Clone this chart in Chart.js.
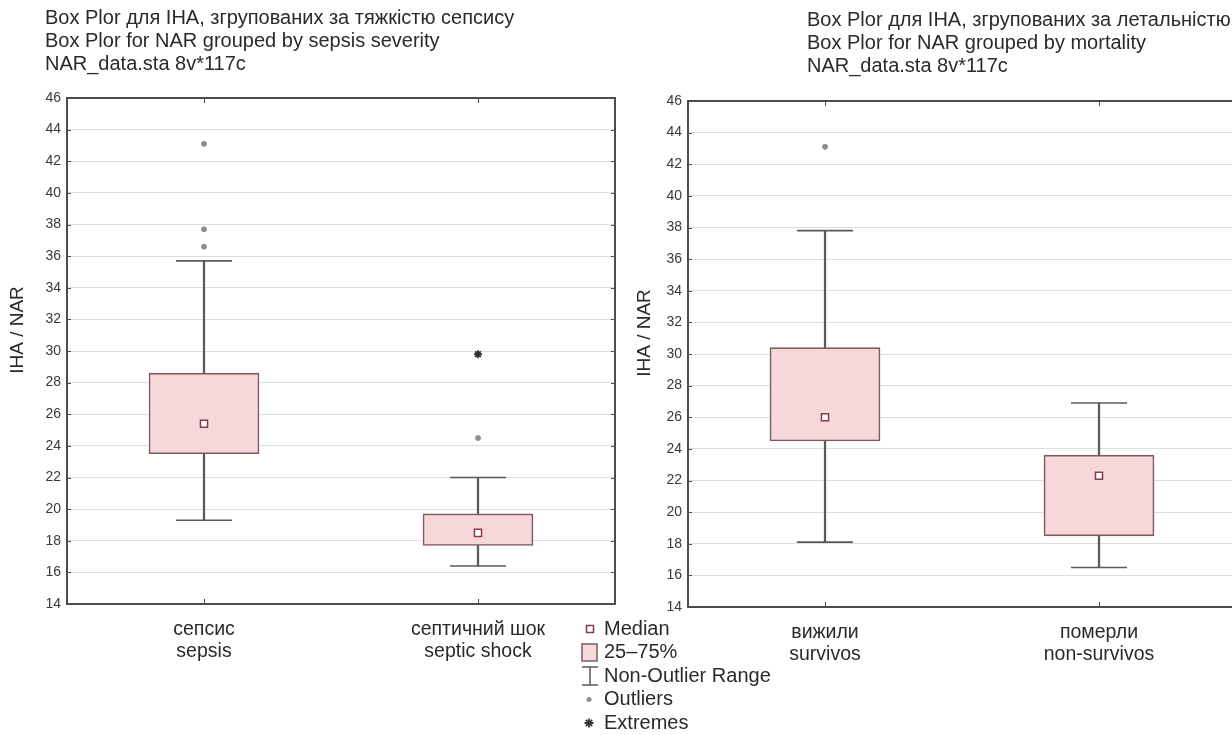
<!DOCTYPE html>
<html lang="uk">
<head>
<meta charset="utf-8">
<title>Box Plor — IHA / NAR</title>
<script src="https://cdn.jsdelivr.net/npm/chart.js@4.4.1/dist/chart.umd.min.js"></script>
<style>
  html, body { margin: 0; padding: 0; background: #fff; overflow: hidden; }
  body { width: 1232px; height: 735px; position: relative; }
  canvas { position: absolute; top: 0; }
  #severity { left: 0; }
  #mortality { left: 620px; }
</style>
</head>
<body>
<canvas id="severity" width="800" height="735"></canvas>
<canvas id="mortality" width="620" height="735"></canvas>
<script>
const FONT = '"Liberation Sans", Arial, Helvetica, sans-serif';

// Shared value axis
const yTickValues = [14, 16, 18, 20, 22, 24, 26, 28, 30, 32, 34, 36, 38, 40, 42, 44, 46];

// Grouping by sepsis severity
const severityGroups = [['сепсис', 'sepsis'], ['септичний шок', 'septic shock']];
const severityMedian = [25.4, 18.5];
const severityQ1 = [23.5, 17.7];
const severityQ3 = [28.6, 19.7];
const severityMin = [19.3, 16.4];
const severityMax = [35.7, 22.0];
const severityOutliers = [[43.1, 37.7, 36.6], [24.5]];
const severityExtremes = [[], [29.8]];

// Grouping by mortality
const mortalityGroups = [['вижили', 'survivos'], ['померли', 'non-survivos']];
const mortalityMedian = [26.0, 22.3];
const mortalityQ1 = [24.5, 18.5];
const mortalityQ3 = [30.4, 23.6];
const mortalityMin = [18.1, 16.5];
const mortalityMax = [37.8, 26.9];
const mortalityOutliers = [[43.1], []];
const mortalityExtremes = [[], []];

const severityHeader = [
  'Box Plor для IHA, згрупованих за тяжкістю сепсису',
  'Box Plor for NAR grouped by sepsis severity',
  'NAR_data.sta 8v*117c'
];
const mortalityHeader = [
  'Box Plor для IHA, згрупованих за летальністю',
  'Box Plor for NAR grouped by mortality',
  'NAR_data.sta 8v*117c'
];
const legendItems = ['Median', '25–75%', 'Non-Outlier Range', 'Outliers', 'Extremes'];

const C = {
  boxFill: '#f6d8db',
  boxEdge: '#7e5a5f',
  whisker: '#5a5a5a',
  median: '#8a3a4a',
  outlier: '#8e8e8e',
  extreme: '#333333',
  grid: '#dddddd',
  frame: '#4d4d4d',
  text: '#2a2a2a',
  tick: '#3a3a3a'
};

Chart.defaults.font.family = FONT;

function pointsOf(lists) {
  const pts = [];
  lists.forEach((vals, i) => vals.forEach(v => pts.push({ x: i, y: v })));
  return pts;
}

function boxDatasets(med, q1, q3, lo, hi, outl, extr) {
  const idx = med.map((_, i) => i);
  return [
    { type: 'line', label: 'Median', order: 0, showLine: false,
      data: idx.map(i => ({ x: i, y: med[i] })),
      pointStyle: 'rect', pointRadius: 5, pointBorderWidth: 1.5,
      pointBorderColor: C.median, pointBackgroundColor: '#ffffff' },
    { type: 'line', label: 'Outliers', order: 0, showLine: false,
      data: pointsOf(outl),
      pointStyle: 'circle', pointRadius: 2.5, pointBorderWidth: 1,
      pointBorderColor: C.outlier, pointBackgroundColor: C.outlier },
    { type: 'line', label: 'Extremes', order: 0, showLine: false,
      data: pointsOf(extr),
      pointStyle: 'star', pointRadius: 4, pointBorderWidth: 1.8,
      pointBorderColor: C.extreme, pointBackgroundColor: C.extreme },
    { type: 'bar', label: '25–75%', order: 1, grouped: false,
      data: idx.map(i => ({ x: i, y: [q1[i], q3[i]] })),
      backgroundColor: C.boxFill, borderColor: C.boxEdge, borderWidth: 1.6,
      borderSkipped: false, barThickness: 110 },
    { type: 'line', label: 'upper cap', order: 2, showLine: false,
      data: idx.map(i => ({ x: i, y: hi[i] })),
      pointStyle: 'line', pointRadius: 28, pointBorderWidth: 1.6,
      pointBorderColor: C.whisker },
    { type: 'line', label: 'lower cap', order: 2, showLine: false,
      data: idx.map(i => ({ x: i, y: lo[i] })),
      pointStyle: 'line', pointRadius: 28, pointBorderWidth: 1.6,
      pointBorderColor: C.whisker },
    { type: 'bar', label: 'Non-Outlier Range', order: 3, grouped: false,
      data: idx.map(i => ({ x: i, y: [lo[i], hi[i]] })),
      backgroundColor: C.whisker, borderWidth: 0, barThickness: 1.6 }
  ];
}

// Frame, inward tick marks, header lines and the rotated value-axis title
const panelDecor = {
  id: 'panelDecor',
  afterDraw(chart, args, o) {
    const { ctx, chartArea: a, scales } = chart;
    ctx.save();
    ctx.strokeStyle = C.frame;
    ctx.lineWidth = 1;
    ctx.beginPath();
    scales.y.ticks.forEach(t => {
      const y = Math.round(scales.y.getPixelForValue(t.value)) + 0.5;
      ctx.moveTo(a.left, y); ctx.lineTo(a.left + 4, y);
      ctx.moveTo(a.right, y); ctx.lineTo(a.right - 4, y);
    });
    scales.x.ticks.forEach(t => {
      const x = Math.round(scales.x.getPixelForValue(t.value)) + 0.5;
      ctx.moveTo(x, a.top); ctx.lineTo(x, a.top + 5);
      ctx.moveTo(x, a.bottom); ctx.lineTo(x, a.bottom - 5);
    });
    ctx.stroke();
    ctx.lineWidth = 2;
    ctx.strokeRect(a.left, a.top, a.right - a.left, a.bottom - a.top);

    ctx.fillStyle = C.text;
    ctx.font = '20px ' + FONT;
    ctx.textBaseline = 'middle';
    ctx.textAlign = 'left';
    o.header.forEach((line, i) => ctx.fillText(line, o.headerX, o.headerY + i * o.headerStep));

    ctx.translate(o.yTitleX, o.yTitleY);
    ctx.rotate(-Math.PI / 2);
    ctx.textAlign = 'center';
    ctx.font = '19px ' + FONT;
    ctx.fillText('IHA / NAR', 0, 0);
    ctx.restore();
  }
};

// Statistica-style key of box plot symbols
const boxKey = {
  id: 'boxKey',
  afterDraw(chart, args, o) {
    const ctx = chart.ctx;
    const sx = o.x, tx = o.x + 14;
    const rowY = i => o.y + i * o.step;
    ctx.save();
    ctx.lineWidth = 1.5;
    // median
    ctx.fillStyle = '#fff'; ctx.strokeStyle = C.median;
    ctx.fillRect(sx - 3.5, rowY(0) - 3.5, 7, 7);
    ctx.strokeRect(sx - 3.5, rowY(0) - 3.5, 7, 7);
    // quartile box
    ctx.fillStyle = C.boxFill; ctx.strokeStyle = C.boxEdge;
    ctx.fillRect(sx - 8, rowY(1) - 8.5, 15, 17);
    ctx.strokeRect(sx - 8, rowY(1) - 8.5, 15, 17);
    // whisker range
    ctx.strokeStyle = C.whisker;
    ctx.beginPath();
    ctx.moveTo(sx, rowY(2) - 9); ctx.lineTo(sx, rowY(2) + 9);
    ctx.moveTo(sx - 8, rowY(2) - 9); ctx.lineTo(sx + 8, rowY(2) - 9);
    ctx.moveTo(sx - 8, rowY(2) + 9); ctx.lineTo(sx + 8, rowY(2) + 9);
    ctx.stroke();
    // outlier
    ctx.fillStyle = C.outlier;
    ctx.beginPath(); ctx.arc(sx - 1, rowY(3), 2.5, 0, Math.PI * 2); ctx.fill();
    // extreme
    ctx.strokeStyle = C.extreme;
    ctx.lineWidth = 1.8;
    ctx.beginPath();
    const r = 4.5, cx = sx - 1, cy = rowY(4);
    for (let k = 0; k < 4; k++) {
      const ang = k * Math.PI / 4;
      ctx.moveTo(cx - r * Math.cos(ang), cy - r * Math.sin(ang));
      ctx.lineTo(cx + r * Math.cos(ang), cy + r * Math.sin(ang));
    }
    ctx.stroke();

    ctx.fillStyle = C.text;
    ctx.font = '20px ' + FONT;
    ctx.textBaseline = 'middle';
    ctx.textAlign = 'left';
    legendItems.forEach((t, i) => ctx.fillText(t, tx, rowY(i)));
    ctx.restore();
  }
};

function makeChart(id, groups, sets, geom, decor, extraPlugins, extraOpts) {
  return new Chart(document.getElementById(id), {
    type: 'bar',
    data: { datasets: sets },
    plugins: [panelDecor].concat(extraPlugins),
    options: {
      responsive: false,
      animation: false,
      events: [],
      layout: { autoPadding: false, padding: { left: 0, top: geom.top, right: geom.right, bottom: 0 } },
      plugins: Object.assign({
        legend: { display: false },
        tooltip: { enabled: false },
        panelDecor: decor
      }, extraOpts),
      scales: {
        x: {
          type: 'linear', min: -0.5, max: 1.5, offset: false,
          afterBuildTicks: s => { s.ticks = groups.map((_, i) => ({ value: i })); },
          afterFit: s => { s.height = geom.xHeight; s.paddingLeft = 0; s.paddingRight = 0; },
          grid: { display: false, drawTicks: false },
          border: { display: false },
          ticks: {
            autoSkip: false, maxRotation: 0, padding: 15,
            color: C.text,
            font: { size: 19.5, lineHeight: 22 / 19.5 },
            callback: v => groups[v]
          }
        },
        y: {
          min: 14, max: 46,
          afterBuildTicks: s => { s.ticks = yTickValues.map(v => ({ value: v })); },
          afterFit: s => { s.width = geom.yWidth; },
          grid: { color: C.grid, lineWidth: 1, drawTicks: false },
          border: { display: false },
          ticks: { padding: 6, color: C.tick, font: { size: 14 } }
        }
      }
    }
  });
}

makeChart('severity', severityGroups,
  boxDatasets(severityMedian, severityQ1, severityQ3, severityMin, severityMax, severityOutliers, severityExtremes),
  { top: 98, right: 185, xHeight: 131, yWidth: 67 },
  { header: severityHeader, headerX: 45, headerY: 18, headerStep: 23, yTitleX: 18, yTitleY: 330 },
  [boxKey],
  { boxKey: { x: 590, y: 629, step: 23.5 } });

makeChart('mortality', mortalityGroups,
  boxDatasets(mortalityMedian, mortalityQ1, mortalityQ3, mortalityMin, mortalityMax, mortalityOutliers, mortalityExtremes),
  { top: 101, right: 4, xHeight: 128, yWidth: 68 },
  { header: mortalityHeader, headerX: 187, headerY: 20, headerStep: 23, yTitleX: 25, yTitleY: 333 },
  [], {});
</script>
</body>
</html>
